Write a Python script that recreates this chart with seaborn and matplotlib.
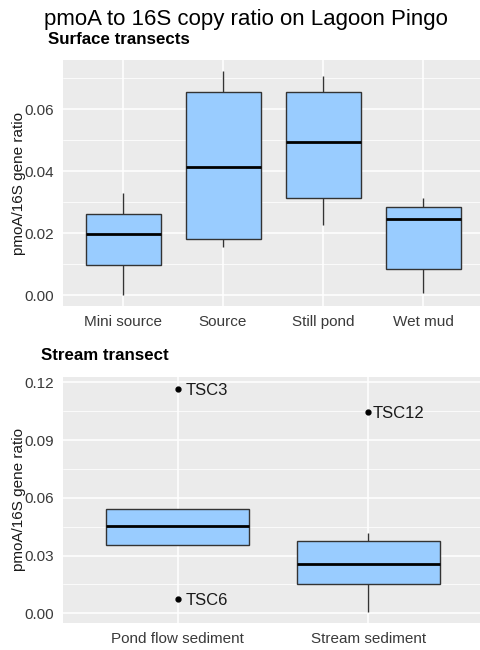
import matplotlib
matplotlib.use("Agg")
import matplotlib.pyplot as plt
from matplotlib.ticker import MultipleLocator, FormatStrFormatter
import seaborn as sns
import pandas as pd

# ---- data ----
surface_categories = ["Mini source", "Source", "Still pond", "Wet mud"]
mini_source = [0.0001, 0.0096, 0.0198, 0.0262, 0.0329]
source = [0.0157, 0.0181, 0.0415, 0.0656, 0.0724]
still_pond = [0.0227, 0.0315, 0.0494, 0.0656, 0.0707]
wet_mud = [0.0006, 0.0086, 0.0246, 0.0284, 0.0312]

stream_categories = ["Pond flow sediment", "Stream sediment"]
pond_flow_sediment = [0.0072, 0.0355, 0.0454, 0.0540, 0.1164]
stream_sediment = [0.0008, 0.0151, 0.0151, 0.0258, 0.0258, 0.0377, 0.0377, 0.0416, 0.1046]

outlier_labels = ["TSC3", "TSC6", "TSC12"]
outlier_groups = ["Pond flow sediment", "Pond flow sediment", "Stream sediment"]
outlier_values = [0.1164, 0.0072, 0.1046]

title = "pmoA to 16S copy ratio on Lagoon Pingo"
ylabel = "pmoA/16S gene ratio"

# ---- style ----
sns.set_theme(style="darkgrid")
plt.rcParams["font.family"] = ["Liberation Sans", "DejaVu Sans"]

FILL = "#99CCFF"
EDGE = "#333333"
PANEL = "#EBEBEB"
TICKC = "#3A3A3A"

fig = plt.figure(figsize=(4.81, 6.50), dpi=100)
W, H = 481, 650

def px_axes(left, top, right, bottom):
    return fig.add_axes([left / W, 1 - bottom / H, (right - left) / W, (bottom - top) / H])

ax1 = px_axes(63, 60, 483, 306)
ax2 = px_axes(63, 376.7, 483, 622.7)

surf_df = pd.DataFrame({
    "group": sum([[c] * len(v) for c, v in zip(surface_categories,
                  [mini_source, source, still_pond, wet_mud])], []),
    "value": mini_source + source + still_pond + wet_mud,
})
stream_df = pd.DataFrame({
    "group": sum([[c] * len(v) for c, v in zip(stream_categories,
                  [pond_flow_sediment, stream_sediment])], []),
    "value": pond_flow_sediment + stream_sediment,
})

box_kw = dict(
    color=FILL, linecolor=EDGE, linewidth=1.0, width=0.75, showcaps=False,
    saturation=1,
    medianprops=dict(color="black", linewidth=2.0),
    whiskerprops=dict(color=EDGE, linewidth=1.0),
    flierprops=dict(marker="o", markerfacecolor="black", markeredgecolor="black",
                    markersize=3.5),
)

sns.boxplot(data=surf_df, x="group", y="value", order=surface_categories, ax=ax1, **box_kw)
sns.boxplot(data=stream_df, x="group", y="value", order=stream_categories, ax=ax2, **box_kw)

for lab, grp, val in zip(outlier_labels, outlier_groups, outlier_values):
    xi = stream_categories.index(grp)
    dx = 3 if lab == "TSC12" else 6
    ax2.annotate(lab, (xi, val), xytext=(dx, -1), textcoords="offset points",
                 ha="left", va="center", fontsize=12, color="#1a1a1a")

def style(ax, n, ylim, major, minor):
    ax.set_facecolor(PANEL)
    ax.set_xlim(-0.6, n - 1 + 0.6)
    ax.set_ylim(*ylim)
    ax.yaxis.set_major_locator(MultipleLocator(major))
    ax.yaxis.set_minor_locator(MultipleLocator(minor))
    ax.yaxis.set_major_formatter(FormatStrFormatter("%.2f"))
    ax.grid(which="major", color="white", linewidth=1.1)
    ax.grid(which="minor", axis="y", color="white", linewidth=0.55)
    ax.set_axisbelow(True)
    for s in ax.spines.values():
        s.set_visible(False)
    ax.tick_params(axis="both", which="major", length=4, width=0.8, color="#333333",
                   labelsize=11, labelcolor=TICKC, pad=2.5)
    ax.tick_params(axis="y", which="minor", length=0)
    ax.set_xlabel("")
    ax.set_ylabel(ylabel, fontsize=11, color="#1a1a1a", labelpad=-1)

style(ax1, 4, (-0.0035, 0.0759), 0.02, 0.01)
style(ax2, 2, (-0.0049, 0.1229), 0.03, 0.015)

fig.text(0.5 * (40 + 452) / W, 1 - 20 / H, title, ha="center", va="center",
         fontsize=16, color="black")
fig.text(48 / W, 1 - 39 / H, "Surface transects", ha="left", va="center",
         fontsize=12.2, fontweight="bold", color="black")
fig.text(41 / W, 1 - 356 / H, "Stream transect", ha="left", va="center",
         fontsize=12.2, fontweight="bold", color="black")

fig.savefig("out.png", dpi=100, facecolor="white")
